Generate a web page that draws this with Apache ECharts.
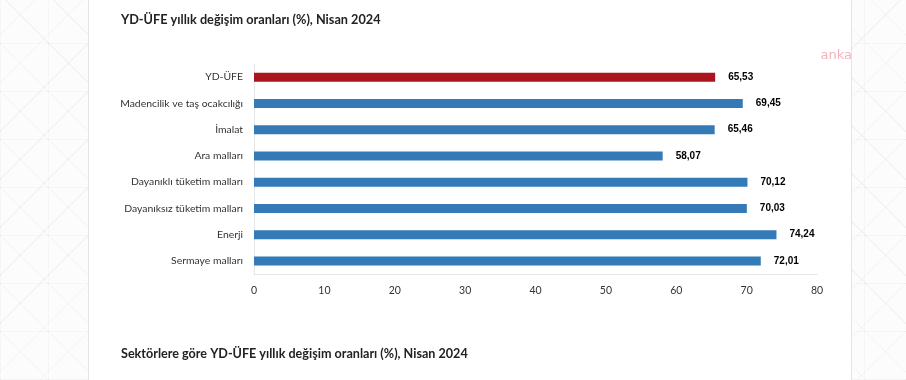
<!DOCTYPE html>
<html>
<head>
<meta charset="utf-8">
<script src="https://cdn.jsdelivr.net/npm/echarts@6/dist/echarts.min.js"></script>
<style>
html,body{margin:0;padding:0;}
body{width:906px;height:380px;position:relative;overflow:hidden;
background-color:#fcfcfc;
background-image:
 repeating-linear-gradient(45deg, rgba(0,0,0,0.035) 0 1px, transparent 1px 34px),
 repeating-linear-gradient(-45deg, rgba(0,0,0,0.035) 0 1px, transparent 1px 34px),
 repeating-linear-gradient(0deg, rgba(0,0,0,0.025) 0 1px, transparent 1px 48px),
 repeating-linear-gradient(90deg, rgba(0,0,0,0.025) 0 1px, transparent 1px 48px);}
#panel{position:absolute;left:88px;top:0;width:764px;height:380px;background:#fff;border-left:1px solid #e4e4e4;border-right:1px solid #e4e4e4;box-sizing:border-box;}
#chart{position:absolute;left:0;top:0;width:906px;height:380px;}
</style>
</head>
<body>
<div id="panel"></div>
<div id="chart"></div>
<script>
var categories = ["YD-ÜFE","Madencilik ve taş ocakcılığı","İmalat","Ara malları","Dayanıklı tüketim malları","Dayanıksız tüketim malları","Enerji","Sermaye malları"];
var values = [65.53, 69.45, 65.46, 58.07, 70.12, 70.03, 74.24, 72.01];
var xTicks = [0, 10, 20, 30, 40, 50, 60, 70, 80];
var title1 = "YD-ÜFE yıllık değişim oranları (%), Nisan 2024";
var title2 = "Sektörlere göre YD-ÜFE yıllık değişim oranları (%), Nisan 2024";

var chart = echarts.init(document.getElementById('chart'), null, {renderer:'canvas'});
var data = values.map(function(v, i){
  return {value: v, itemStyle: {color: i === 0 ? '#a9141d' : '#337ab7'}};
});
chart.setOption({
  backgroundColor: 'transparent',
  animation: false,
  textStyle: {fontFamily: 'Lato, sans-serif'},
  title: [
    {text: title1, left: 116, top: 8, textStyle: {fontSize: 12.7, fontWeight: 'bold', color: '#222', fontFamily: 'Lato, sans-serif'}},
    {text: title2, left: 116, top: 342, textStyle: {fontSize: 12.6, fontWeight: 'bold', color: '#222', fontFamily: 'Lato, sans-serif'}}
  ],
  graphic: [
    {type: 'text', right: 54, top: 49, style: {text: 'anka', fill: '#f3b3bb', font: '13px "DejaVu Sans", sans-serif'}}
  ],
  grid: {left: 254, right: 89, top: 64, height: 210, containLabel: false},
  xAxis: {
    type: 'value', min: xTicks[0], max: xTicks[xTicks.length-1], interval: 10,
    axisLine: {show: true, lineStyle: {color: '#e6e6e6'}},
    axisTick: {show: false},
    splitLine: {show: false},
    axisLabel: {color: '#333', fontSize: 10.5, margin: 11, fontFamily: 'Lato, sans-serif'}
  },
  yAxis: {
    type: 'category', data: categories, inverse: true,
    axisLine: {show: true, lineStyle: {color: '#e6e6e6'}},
    axisTick: {show: false},
    axisLabel: {color: '#333', fontSize: 10.4, margin: 11, fontFamily: 'Lato, sans-serif'}
  },
  series: [{
    type: 'bar', data: data, barWidth: 9,
    label: {show: true, position: 'right', distance: 13, color: '#000', fontSize: 10, fontWeight: 'bold', fontFamily: '"Liberation Sans", Arial, sans-serif',
      formatter: function(p){ return p.value.toFixed(2).replace('.', ','); }}
  }]
});
</script>
</body>
</html>
